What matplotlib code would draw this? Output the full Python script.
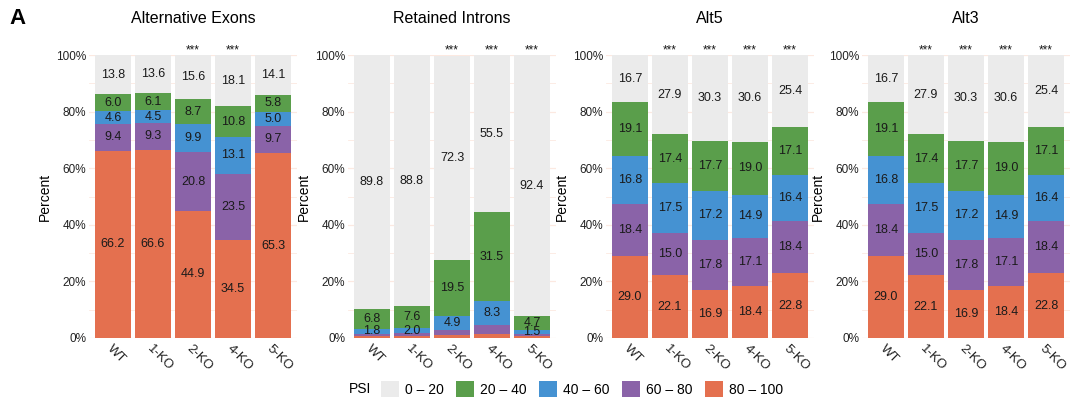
import numpy as np
import matplotlib
matplotlib.use('Agg')
import matplotlib.pyplot as plt
from matplotlib.patches import Patch
from matplotlib.ticker import MultipleLocator, FuncFormatter

plt.rcParams['font.family'] = ['Liberation Sans', 'DejaVu Sans']

samples = ['WT', '1-KO', '2-KO', '4-KO', '5-KO']
psi_bins = ['0 – 20', '20 – 40', '40 – 60', '60 – 80', '80 – 100']
bin_colors = ['#EBEBEB', '#5A9E4B', '#4592D2', '#8A63A8', '#E4704F']

# Alternative exons, percent of events per PSI bin
ae_0_20 = [13.8, 13.6, 15.6, 18.1, 14.1]
ae_20_40 = [6.0, 6.1, 8.7, 10.8, 5.8]
ae_40_60 = [4.6, 4.5, 9.9, 13.1, 5.0]
ae_60_80 = [9.4, 9.3, 20.8, 23.5, 9.7]
ae_80_100 = [66.2, 66.6, 44.9, 34.5, 65.3]
ae_sig = ['', '', '***', '***', '']

# Retained introns
ri_0_20 = [89.8, 88.8, 72.3, 55.5, 92.4]
ri_20_40 = [6.8, 7.6, 19.5, 31.5, 4.7]
ri_40_60 = [1.8, 2.0, 4.9, 8.3, 1.5]
ri_60_80 = [0.9, 1.0, 1.8, 3.2, 0.8]
ri_80_100 = [0.6, 0.6, 1.2, 1.4, 0.6]
ri_sig = ['', '', '***', '***', '***']

# Alternative 5' splice sites
a5_0_20 = [16.7, 27.9, 30.3, 30.6, 25.4]
a5_20_40 = [19.1, 17.4, 17.7, 19.0, 17.1]
a5_40_60 = [16.8, 17.5, 17.2, 14.9, 16.4]
a5_60_80 = [18.4, 15.0, 17.8, 17.1, 18.4]
a5_80_100 = [29.0, 22.1, 16.9, 18.4, 22.8]
a5_sig = ['', '***', '***', '***', '***']

# Alternative 3' splice sites
a3_0_20 = [16.7, 27.9, 30.3, 30.6, 25.4]
a3_20_40 = [19.1, 17.4, 17.7, 19.0, 17.1]
a3_40_60 = [16.8, 17.5, 17.2, 14.9, 16.4]
a3_60_80 = [18.4, 15.0, 17.8, 17.1, 18.4]
a3_80_100 = [29.0, 22.1, 16.9, 18.4, 22.8]
a3_sig = ['', '***', '***', '***', '***']

# title, bins (0-20 first), significance, number of bins that get value labels
panels = [
    ('Alternative Exons', [ae_0_20, ae_20_40, ae_40_60, ae_60_80, ae_80_100], ae_sig, 5),
    ('Retained Introns', [ri_0_20, ri_20_40, ri_40_60, ri_60_80, ri_80_100], ri_sig, 3),
    ('Alt5', [a5_0_20, a5_20_40, a5_40_60, a5_60_80, a5_80_100], a5_sig, 5),
    ('Alt3', [a3_0_20, a3_20_40, a3_40_60, a3_60_80, a3_80_100], a3_sig, 5),
]

W, H = 1070, 400
fig = plt.figure(figsize=(W / 100, H / 100), dpi=100)
lefts = [89, 348, 606, 862]
grid_col = '#FCE9E1'

for i, (title, stack, sig, n_lab) in enumerate(panels):
    ax = fig.add_axes([lefts[i] / W, 62 / H, 208 / W, 283 / H])
    x = np.arange(1, len(samples) + 1)
    bottom = np.zeros(len(samples))
    # stack from the 80-100 bin upward
    for j in range(len(psi_bins) - 1, -1, -1):
        vals = np.array(stack[j])
        ax.bar(x, vals, bottom=bottom, width=0.9, color=bin_colors[j],
               linewidth=0, zorder=2)
        if j < n_lab:
            for k in range(len(samples)):
                if vals[k] >= 1.5:
                    ax.text(x[k], bottom[k] + vals[k] / 2, f'{vals[k]:.1f}',
                            ha='center', va='center', fontsize=9,
                            color='#1a1a1a', zorder=3)
        bottom += vals

    for k, s in enumerate(sig):
        if s:
            ax.text(x[k], 100.4, s, ha='center', va='baseline', fontsize=8.5,
                    color='#1a1a1a', clip_on=False)

    ax.set_xlim(0.4, 5.6)
    ax.set_ylim(0, 100)
    ax.yaxis.set_major_locator(MultipleLocator(20))
    ax.yaxis.set_minor_locator(MultipleLocator(10))
    ax.yaxis.set_major_formatter(FuncFormatter(lambda v, p: f'{int(v)}%'))
    ax.grid(axis='y', which='major', color=grid_col, lw=0.9, zorder=0)
    ax.grid(axis='y', which='minor', color=grid_col, lw=0.6, zorder=0)
    for sp in ax.spines.values():
        sp.set_visible(False)
    ax.tick_params(axis='both', which='both', length=0)
    ax.tick_params(axis='y', pad=2, labelsize=8.5, labelcolor='#222222')
    ax.tick_params(axis='x', pad=3, labelsize=9.5, labelcolor='#222222')
    ax.set_xticks(x)
    ax.set_xticklabels(samples, rotation=-45, ha='left', va='top',
                       rotation_mode='anchor')
    ax.set_ylabel('Percent', fontsize=10)
    ax.yaxis.set_label_coords(-0.178, 0.5)
    ax.text(0.5, 1.129, title, transform=ax.transAxes, ha='center',
            va='center', fontsize=11.5)

fig.text(18 / W, 1 - 19 / H, 'A', fontsize=16, fontweight='bold',
         ha='center', va='center')

handles = [Patch(facecolor=c, edgecolor='none', label=l)
           for c, l in zip(bin_colors, psi_bins)]
fig.legend(handles=handles, loc='center', bbox_to_anchor=(582 / W, 1 - 389 / H),
           ncol=5, frameon=False, fontsize=10, handlelength=1.3,
           handleheight=1.3, handletextpad=0.45, columnspacing=0.86,
           borderpad=0)
fig.text(349 / W, 1 - 389 / H, 'PSI', fontsize=10, ha='left', va='center')

fig.savefig('out.png', dpi=100)
